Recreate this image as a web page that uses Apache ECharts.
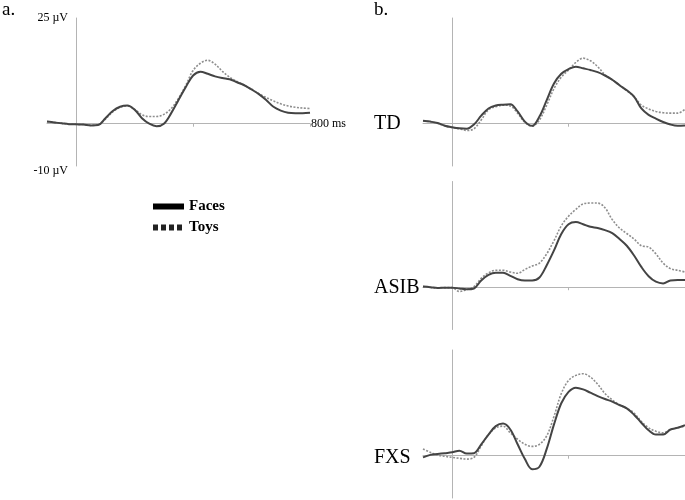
<!DOCTYPE html>
<html>
<head>
<meta charset="utf-8">
<script src="https://cdn.jsdelivr.net/npm/echarts@6/dist/echarts.min.js"></script>
<style>
  html, body { margin: 0; padding: 0; background: #fff; }
  #main { width: 685px; height: 500px; }
</style>
</head>
<body>
<div id="main"></div>
<script>
// time points (ms)
var times = [-100, -75, -50, -25, 0, 25, 50, 75, 100, 125, 150, 175, 200, 225, 250, 275, 300, 325, 350,
  375, 400, 425, 450, 475, 500, 525, 550, 575, 600, 625, 650, 675, 700, 725, 750, 775, 800];

// a. grand average (uV)
var avgFaces = [0.5, 0.3, 0.1, -0.1, -0.15, -0.2, -0.4, -0.3, 1.3, 3.0, 4.0, 4.3, 3.3, 1.3, 0, -0.6, 0, 2.5, 5.6,
  8.7, 11.4, 12.3, 11.8, 11.2, 10.8, 10.5, 9.8, 9.1, 8.1, 7.0, 5.6, 4.0, 3.1, 2.6, 2.5, 2.5, 2.6];
var avgToys = [0.5, 0.3, 0.1, -0.1, -0.15, -0.2, -0.4, -0.3, 1.1, 2.8, 3.9, 4.2, 3.4, 2.1, 1.7, 1.7, 2.2, 3.6, 6.0,
  9.1, 12.6, 14.3, 15.0, 14.1, 12.4, 11.0, 10.0, 9.1, 8.1, 7.1, 6.2, 5.4, 4.7, 4.2, 3.9, 3.7, 3.6];

// b. groups
var tdFaces = [0.7, 0.5, 0.15, -0.5, -0.85, -1.1, -1.2, -0.2, 1.9, 3.6, 4.3, 4.5, 4.6, 2.9, 0.5, -0.5, 1.7, 5.6, 9.5,
  11.8, 12.9, 13.5, 13.1, 12.7, 12.2, 11.4, 10.4, 9.1, 7.9, 6.4, 3.6, 2.1, 1.2, 0.4, -0.2, -0.5, -0.4];
var tdToys = [0.7, 0.5, 0.1, -0.5, -0.9, -1.2, -1.6, -1.2, 0.9, 3.3, 4.0, 4.4, 4.2, 2.5, 0.3, -0.6, 0.9, 4.4, 8.3,
  11.0, 12.7, 14.5, 15.5, 14.9, 13.5, 11.6, 10.4, 9.1, 7.8, 6.4, 4.4, 3.5, 2.9, 2.6, 2.5, 2.5, 3.4];
var asibFaces = [0.15, 0, -0.2, -0.1, -0.1, -0.3, -0.5, -0.3, 1.6, 2.9, 3.4, 3.4, 2.7, 1.9, 1.6, 1.6, 2.3, 5.2, 8.7,
  12.6, 14.9, 15.4, 14.9, 14.3, 14.0, 13.5, 12.8, 11.4, 9.8, 7.5, 4.8, 2.6, 1.3, 0.9, 1.6, 1.7, 1.7];
var asibToys = [0.15, 0, -0.2, -0.1, -0.1, -1.0, -0.6, 0.15, 2.1, 3.4, 4.0, 4.0, 3.6, 3.3, 4.2, 5.0, 5.7, 7.9, 11.0,
  14.5, 16.8, 18.4, 19.7, 19.9, 19.9, 18.8, 16.0, 14.0, 12.7, 11.4, 9.8, 9.5, 7.9, 5.7, 4.4, 4.0, 3.6];
var fxsFaces = [-0.4, 0.2, 0.4, 0.6, 0.8, 1.2, 0.5, 0.6, 2.7, 5.0, 7.0, 7.6, 6.2, 2.7, -0.8, -3.2, -2.6, 1.6, 7.4,
  12.4, 15.1, 16.1, 15.7, 14.9, 14.1, 13.4, 12.8, 12.0, 11.2, 9.7, 7.8, 6.0, 5.0, 5.0, 6.2, 6.6, 7.2];
var fxsToys = [1.6, 0.8, 0.15, -0.15, -0.4, -0.6, -0.8, -0.4, 2.3, 5.0, 6.6, 7.0, 5.4, 3.9, 2.7, 2.2, 2.7, 4.7, 9.3,
  14.7, 17.8, 19.0, 19.4, 18.6, 16.9, 14.7, 13.2, 12.0, 11.2, 10.1, 8.1, 6.6, 5.8, 5.4, 6.2, 6.6, 7.0];

var groupNames = ['TD', 'ASIB', 'FXS'];
var yLabelValues = [-10, 25];
var xTickValues = [400, 800];

var chart = echarts.init(document.getElementById('main'));

var serif = 'Liberation Serif';
var axisGray = '#b4b4b4';

function pairs(vals) {
  return times.map(function (t, i) { return [t, vals[i]]; });
}

// grids: a. on the left, b. three stacked on the right
var grids = [
  { left: 47, top: 18, width: 263, height: 148 },
  { left: 423, top: 18, width: 263, height: 148 },
  { left: 423, top: 181.5, width: 263, height: 148 },
  { left: 423, top: 350, width: 263, height: 148 }
];

var xAxes = grids.map(function (g, i) {
  return {
    type: 'value',
    gridIndex: i,
    min: -100,
    max: 800,
    name: i === 0 ? '800 ms' : '',
    nameLocation: 'end',
    nameGap: 1,
    nameTextStyle: { fontFamily: serif, fontSize: 12, color: '#000' },
    axisLine: { onZero: true, lineStyle: { color: axisGray, width: 1 } },
    axisTick: { show: true, customValues: xTickValues, length: 3, lineStyle: { color: axisGray } },
    axisLabel: { show: false },
    splitLine: { show: false }
  };
});

var yAxes = grids.map(function (g, i) {
  return {
    type: 'value',
    gridIndex: i,
    min: -10,
    max: 25,
    axisLine: { show: true, onZero: true, lineStyle: { color: axisGray, width: 1 } },
    axisTick: { show: false },
    axisLabel: {
      show: i === 0,
      customValues: yLabelValues,
      fontFamily: serif,
      fontSize: 12,
      color: '#000',
      margin: -21,
      formatter: function (v) { return v < 0 ? '{lo|' + v + ' µV}' : v + ' µV'; },
      rich: { lo: { fontFamily: serif, fontSize: 12, color: '#000', padding: [9, 0, 0, 0] } }
    },
    splitLine: { show: false }
  };
});

var facesStyle = { color: '#444', width: 2 };
var toysStyle = { color: '#8e8e8e', width: 1.6, type: [2, 1.5] };

var panels = [
  [avgToys, avgFaces],
  [tdToys, tdFaces],
  [asibToys, asibFaces],
  [fxsToys, fxsFaces]
];

var series = [];
panels.forEach(function (p, i) {
  series.push({
    name: 'Toys', type: 'line', xAxisIndex: i, yAxisIndex: i,
    data: pairs(p[0]), smooth: 0.35, symbol: 'none',
    itemStyle: { color: toysStyle.color }, lineStyle: toysStyle, z: 2
  });
  series.push({
    name: 'Faces', type: 'line', xAxisIndex: i, yAxisIndex: i,
    data: pairs(p[1]), smooth: 0.35, symbol: 'none',
    itemStyle: { color: facesStyle.color }, lineStyle: facesStyle, z: 3
  });
});

var titles = [
  { text: 'a.', left: 2, top: 1 },
  { text: 'b.', left: 374, top: 1 },
  { text: groupNames[0], left: 374, top: 114 },
  { text: groupNames[1], left: 374, top: 278 },
  { text: groupNames[2], left: 374, top: 448 }
].map(function (t, i) {
  t.padding = 0;
  t.textStyle = { fontFamily: serif, fontWeight: 'normal', fontSize: i < 2 ? 19 : 20, color: '#000' };
  return t;
});

var option = {
  backgroundColor: '#fff',
  animation: false,
  title: titles,
  legend: {
    orient: 'vertical',
    left: 150,
    top: 199,
    itemWidth: 31,
    itemHeight: 8,
    itemGap: 6,
    padding: 0,
    textStyle: { fontFamily: serif, fontWeight: 'bold', fontSize: 15, color: '#000' },
    data: [
      { name: 'Faces', itemStyle: { opacity: 0 }, lineStyle: { color: '#000', width: 6, type: 'solid' } },
      { name: 'Toys', itemStyle: { opacity: 0 }, lineStyle: { color: '#222', width: 6, type: [5, 3] } }
    ]
  },
  grid: grids,
  xAxis: xAxes,
  yAxis: yAxes,
  series: series
};

chart.setOption(option);
</script>
</body>
</html>
